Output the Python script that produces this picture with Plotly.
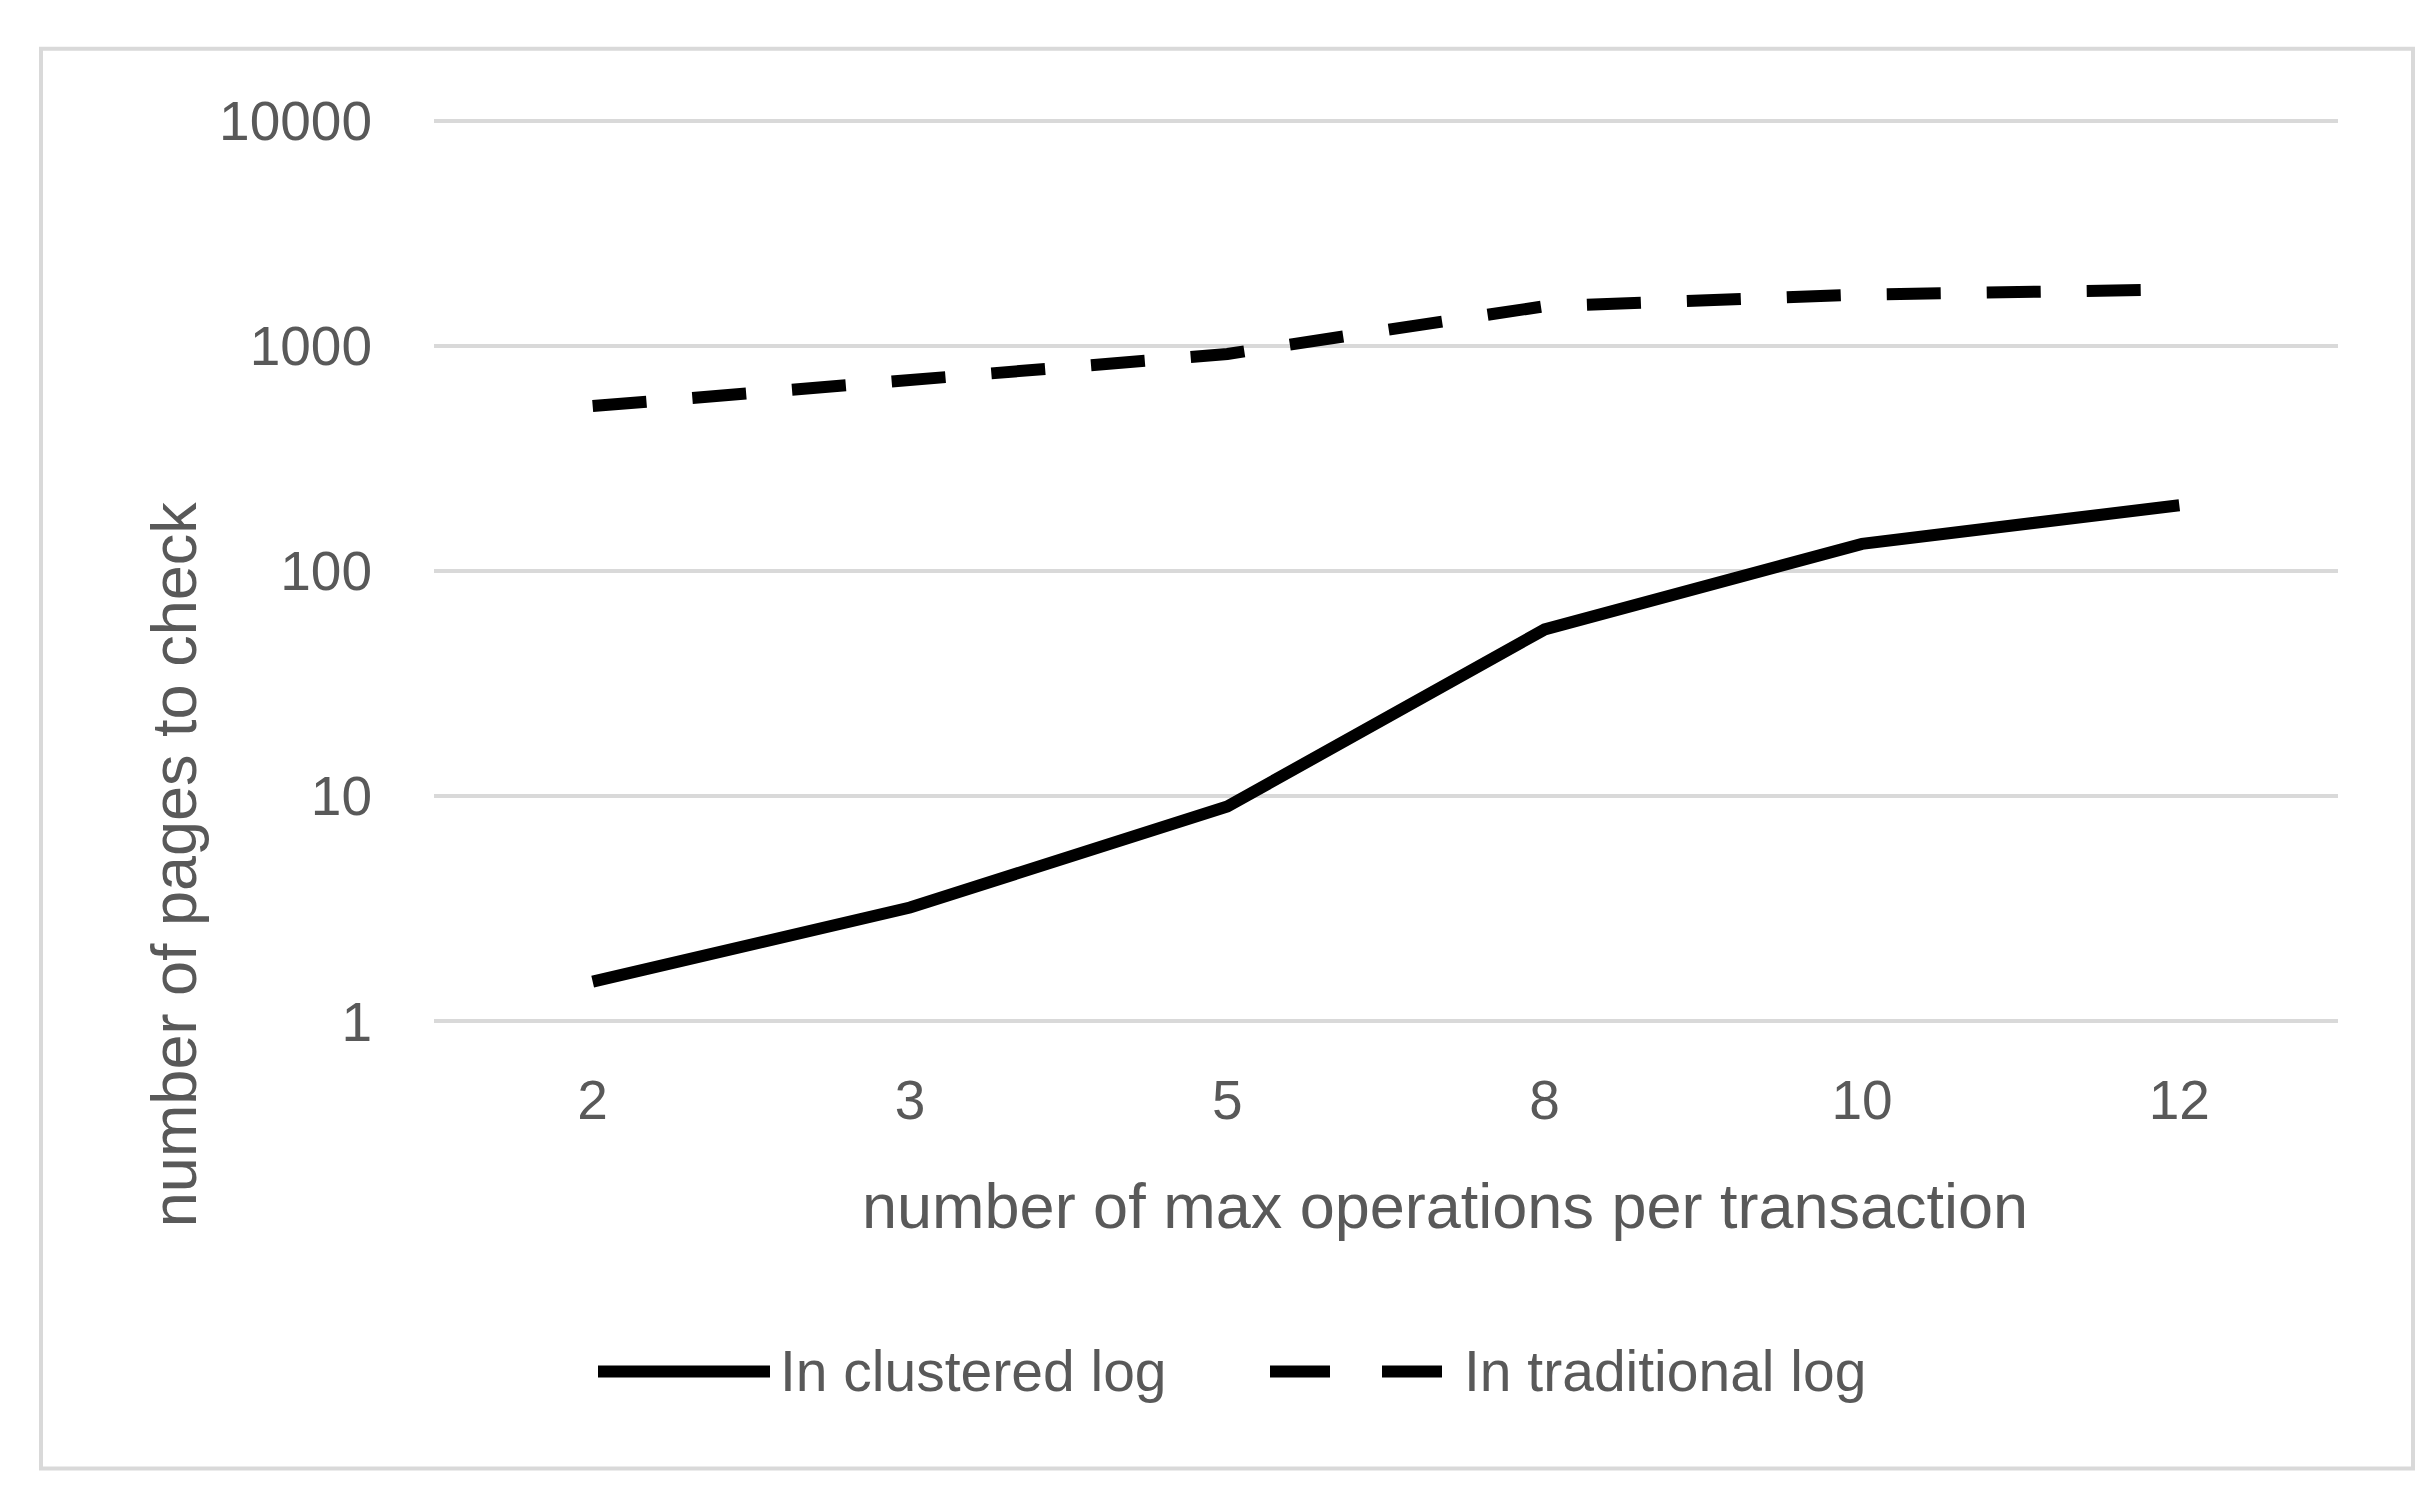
import plotly.graph_objects as go

# ---- data ----
categories = ["2", "3", "5", "8", "10", "12"]
clustered_log = [1.5, 3.2, 9, 55, 132, 196]
traditional_log = [540, 710, 920, 1500, 1690, 1780]
y_tick_vals = [1, 10, 100, 1000, 10000]
y_tick_text = ["1", "10", "100", "1000", "10000"]
series_names = ["In clustered log", "In traditional log"]
x_title = "number of max operations per transaction"
y_title = "number of pages to check"

W, H = 2436, 1485
PAD = 0.012  # small log-range padding so the 1 and 10000 gridlines are drawn
DEC = 225.0  # pixels per decade
L, R = 426, 2330
T = 113 - PAD * DEC
B = 1013 + PAD * DEC
FONT = "Liberation Sans, Arial, sans-serif"
GREY = "#595959"


def px(x):
    return (x - L) / (R - L)


def py(y):
    return (B - y) / (B - T)


fig = go.Figure()
fig.add_trace(go.Scatter(x=categories, y=clustered_log, mode="lines",
                         name=series_names[0],
                         line=dict(color="black", width=12)))
fig.add_trace(go.Scatter(x=categories, y=traditional_log, mode="lines",
                         name=series_names[1],
                         line=dict(color="black", width=12, dash="54px,46px")))

shapes = [
    # outer chart frame
    dict(type="rect", xref="paper", yref="paper",
         x0=px(33), x1=px(2405), y0=py(1460), y1=py(41),
         line=dict(color="#d9d9d9", width=4), fillcolor="rgba(0,0,0,0)", layer="below"),
    # legend samples
    dict(type="line", xref="paper", yref="paper",
         x0=px(590), x1=px(762), y0=py(1363), y1=py(1363),
         line=dict(color="black", width=12)),
    dict(type="line", xref="paper", yref="paper",
         x0=px(1262), x1=px(1434), y0=py(1363), y1=py(1363),
         line=dict(color="black", width=12, dash="60px,52px")),
]

annotations = [
    dict(text=y_title, xref="paper", yref="paper", x=px(166), y=py(857),
         showarrow=False, textangle=-90, xanchor="center", yanchor="middle",
         font=dict(family=FONT, size=63, color=GREY)),
    dict(text=x_title, xref="paper", yref="paper", x=px(1437), y=py(1198),
         showarrow=False, xanchor="center", yanchor="middle",
         font=dict(family=FONT, size=63, color=GREY)),
    dict(text=series_names[0], xref="paper", yref="paper", x=px(770), y=py(1362),
         showarrow=False, xanchor="left", yanchor="middle",
         font=dict(family=FONT, size=57, color=GREY)),
    dict(text=series_names[1], xref="paper", yref="paper", x=px(1454), y=py(1362),
         showarrow=False, xanchor="left", yanchor="middle",
         font=dict(family=FONT, size=57, color=GREY)),
]

fig.update_layout(
    width=W, height=H,
    margin=dict(l=L, r=W - R, t=T, b=H - B, pad=0),
    paper_bgcolor="white", plot_bgcolor="white",
    showlegend=False,
    shapes=shapes, annotations=annotations,
    xaxis=dict(type="category", range=[-0.5, 5.5], showgrid=False,
               showline=False, zeroline=False,
               ticks="outside", ticklen=28, tickcolor="rgba(0,0,0,0)",
               tickfont=dict(family=FONT, size=55, color=GREY)),
    yaxis=dict(type="log", range=[-PAD, 4 + PAD], tickvals=y_tick_vals, ticktext=y_tick_text,
               showgrid=True, gridcolor="#d9d9d9", gridwidth=4,
               showline=False, zeroline=False,
               ticks="outside", ticklen=50, tickcolor="rgba(0,0,0,0)",
               tickfont=dict(family=FONT, size=55, color=GREY)),
)

fig.write_html("out.html")
